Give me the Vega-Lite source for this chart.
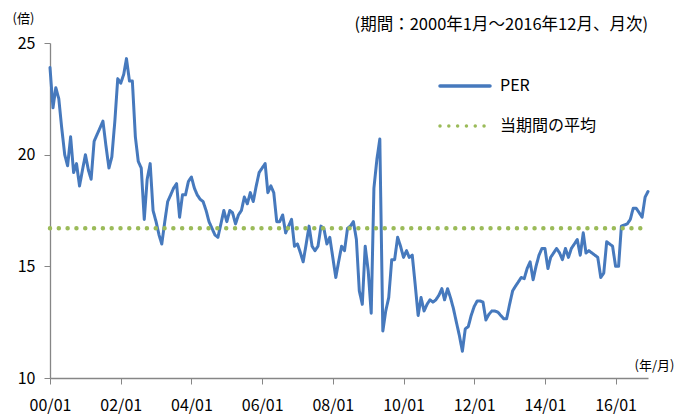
{
  "$schema": "https://vega.github.io/schema/vega-lite/v6.json",
  "width": 598,
  "height": 335,
  "autosize": {"type": "none"},
  "padding": {"left": 50, "top": 43, "right": 28, "bottom": 36},
  "background": "white",
  "config": {
    "font": "Noto Sans CJK JP",
    "view": {"stroke": null}
  },
  "title": {
    "text": "(期間：2000年1月～2016年12月、月次)",
    "anchor": "end",
    "fontSize": 16.5,
    "fontWeight": "normal",
    "color": "#000000",
    "offset": -21,
    "frame": "group"
  },
  "datasets": {
    "per": [
      {"date":"2000-01-01","per":23.9,"series":"PER"},
      {"date":"2000-02-01","per":22.1,"series":"PER"},
      {"date":"2000-03-01","per":23.0,"series":"PER"},
      {"date":"2000-04-01","per":22.5,"series":"PER"},
      {"date":"2000-05-01","per":21.2,"series":"PER"},
      {"date":"2000-06-01","per":20.0,"series":"PER"},
      {"date":"2000-07-01","per":19.5,"series":"PER"},
      {"date":"2000-08-01","per":20.8,"series":"PER"},
      {"date":"2000-09-01","per":19.2,"series":"PER"},
      {"date":"2000-10-01","per":19.6,"series":"PER"},
      {"date":"2000-11-01","per":18.6,"series":"PER"},
      {"date":"2000-12-01","per":19.3,"series":"PER"},
      {"date":"2001-01-01","per":20.0,"series":"PER"},
      {"date":"2001-02-01","per":19.3,"series":"PER"},
      {"date":"2001-03-01","per":18.9,"series":"PER"},
      {"date":"2001-04-01","per":20.6,"series":"PER"},
      {"date":"2001-05-01","per":20.9,"series":"PER"},
      {"date":"2001-06-01","per":21.2,"series":"PER"},
      {"date":"2001-07-01","per":21.5,"series":"PER"},
      {"date":"2001-08-01","per":20.4,"series":"PER"},
      {"date":"2001-09-01","per":19.4,"series":"PER"},
      {"date":"2001-10-01","per":19.9,"series":"PER"},
      {"date":"2001-11-01","per":21.5,"series":"PER"},
      {"date":"2001-12-01","per":23.4,"series":"PER"},
      {"date":"2002-01-01","per":23.2,"series":"PER"},
      {"date":"2002-02-01","per":23.6,"series":"PER"},
      {"date":"2002-03-01","per":24.3,"series":"PER"},
      {"date":"2002-04-01","per":23.3,"series":"PER"},
      {"date":"2002-05-01","per":23.3,"series":"PER"},
      {"date":"2002-06-01","per":20.8,"series":"PER"},
      {"date":"2002-07-01","per":19.7,"series":"PER"},
      {"date":"2002-08-01","per":19.4,"series":"PER"},
      {"date":"2002-09-01","per":17.1,"series":"PER"},
      {"date":"2002-10-01","per":18.9,"series":"PER"},
      {"date":"2002-11-01","per":19.6,"series":"PER"},
      {"date":"2002-12-01","per":17.5,"series":"PER"},
      {"date":"2003-01-01","per":17.0,"series":"PER"},
      {"date":"2003-02-01","per":16.4,"series":"PER"},
      {"date":"2003-03-01","per":16.0,"series":"PER"},
      {"date":"2003-04-01","per":17.0,"series":"PER"},
      {"date":"2003-05-01","per":17.9,"series":"PER"},
      {"date":"2003-06-01","per":18.2,"series":"PER"},
      {"date":"2003-07-01","per":18.5,"series":"PER"},
      {"date":"2003-08-01","per":18.7,"series":"PER"},
      {"date":"2003-09-01","per":17.2,"series":"PER"},
      {"date":"2003-10-01","per":18.2,"series":"PER"},
      {"date":"2003-11-01","per":18.2,"series":"PER"},
      {"date":"2003-12-01","per":18.8,"series":"PER"},
      {"date":"2004-01-01","per":19.0,"series":"PER"},
      {"date":"2004-02-01","per":18.5,"series":"PER"},
      {"date":"2004-03-01","per":18.2,"series":"PER"},
      {"date":"2004-04-01","per":18.0,"series":"PER"},
      {"date":"2004-05-01","per":17.9,"series":"PER"},
      {"date":"2004-06-01","per":17.5,"series":"PER"},
      {"date":"2004-07-01","per":17.0,"series":"PER"},
      {"date":"2004-08-01","per":16.7,"series":"PER"},
      {"date":"2004-09-01","per":16.4,"series":"PER"},
      {"date":"2004-10-01","per":16.3,"series":"PER"},
      {"date":"2004-11-01","per":16.9,"series":"PER"},
      {"date":"2004-12-01","per":17.5,"series":"PER"},
      {"date":"2005-01-01","per":17.0,"series":"PER"},
      {"date":"2005-02-01","per":17.5,"series":"PER"},
      {"date":"2005-03-01","per":17.4,"series":"PER"},
      {"date":"2005-04-01","per":16.9,"series":"PER"},
      {"date":"2005-05-01","per":17.3,"series":"PER"},
      {"date":"2005-06-01","per":17.5,"series":"PER"},
      {"date":"2005-07-01","per":18.1,"series":"PER"},
      {"date":"2005-08-01","per":17.8,"series":"PER"},
      {"date":"2005-09-01","per":18.3,"series":"PER"},
      {"date":"2005-10-01","per":17.9,"series":"PER"},
      {"date":"2005-11-01","per":18.6,"series":"PER"},
      {"date":"2005-12-01","per":19.2,"series":"PER"},
      {"date":"2006-01-01","per":19.4,"series":"PER"},
      {"date":"2006-02-01","per":19.6,"series":"PER"},
      {"date":"2006-03-01","per":18.3,"series":"PER"},
      {"date":"2006-04-01","per":18.6,"series":"PER"},
      {"date":"2006-05-01","per":18.3,"series":"PER"},
      {"date":"2006-06-01","per":17.0,"series":"PER"},
      {"date":"2006-07-01","per":17.0,"series":"PER"},
      {"date":"2006-08-01","per":17.3,"series":"PER"},
      {"date":"2006-09-01","per":16.5,"series":"PER"},
      {"date":"2006-10-01","per":16.8,"series":"PER"},
      {"date":"2006-11-01","per":17.1,"series":"PER"},
      {"date":"2006-12-01","per":15.9,"series":"PER"},
      {"date":"2007-01-01","per":16.0,"series":"PER"},
      {"date":"2007-02-01","per":15.6,"series":"PER"},
      {"date":"2007-03-01","per":15.2,"series":"PER"},
      {"date":"2007-04-01","per":16.0,"series":"PER"},
      {"date":"2007-05-01","per":16.8,"series":"PER"},
      {"date":"2007-06-01","per":15.9,"series":"PER"},
      {"date":"2007-07-01","per":15.7,"series":"PER"},
      {"date":"2007-08-01","per":15.9,"series":"PER"},
      {"date":"2007-09-01","per":16.8,"series":"PER"},
      {"date":"2007-10-01","per":16.7,"series":"PER"},
      {"date":"2007-11-01","per":16.0,"series":"PER"},
      {"date":"2007-12-01","per":16.3,"series":"PER"},
      {"date":"2008-01-01","per":15.4,"series":"PER"},
      {"date":"2008-02-01","per":14.5,"series":"PER"},
      {"date":"2008-03-01","per":15.2,"series":"PER"},
      {"date":"2008-04-01","per":15.9,"series":"PER"},
      {"date":"2008-05-01","per":15.7,"series":"PER"},
      {"date":"2008-06-01","per":16.7,"series":"PER"},
      {"date":"2008-07-01","per":16.8,"series":"PER"},
      {"date":"2008-08-01","per":17.0,"series":"PER"},
      {"date":"2008-09-01","per":16.2,"series":"PER"},
      {"date":"2008-10-01","per":13.9,"series":"PER"},
      {"date":"2008-11-01","per":13.3,"series":"PER"},
      {"date":"2008-12-01","per":15.9,"series":"PER"},
      {"date":"2009-01-01","per":14.8,"series":"PER"},
      {"date":"2009-02-01","per":12.9,"series":"PER"},
      {"date":"2009-03-01","per":18.5,"series":"PER"},
      {"date":"2009-04-01","per":19.8,"series":"PER"},
      {"date":"2009-05-01","per":20.7,"series":"PER"},
      {"date":"2009-06-01","per":12.1,"series":"PER"},
      {"date":"2009-07-01","per":13.0,"series":"PER"},
      {"date":"2009-08-01","per":13.6,"series":"PER"},
      {"date":"2009-09-01","per":15.3,"series":"PER"},
      {"date":"2009-10-01","per":15.3,"series":"PER"},
      {"date":"2009-11-01","per":16.3,"series":"PER"},
      {"date":"2009-12-01","per":15.9,"series":"PER"},
      {"date":"2010-01-01","per":15.4,"series":"PER"},
      {"date":"2010-02-01","per":15.7,"series":"PER"},
      {"date":"2010-03-01","per":15.4,"series":"PER"},
      {"date":"2010-04-01","per":15.5,"series":"PER"},
      {"date":"2010-05-01","per":14.2,"series":"PER"},
      {"date":"2010-06-01","per":12.8,"series":"PER"},
      {"date":"2010-07-01","per":13.6,"series":"PER"},
      {"date":"2010-08-01","per":13.0,"series":"PER"},
      {"date":"2010-09-01","per":13.3,"series":"PER"},
      {"date":"2010-10-01","per":13.5,"series":"PER"},
      {"date":"2010-11-01","per":13.4,"series":"PER"},
      {"date":"2010-12-01","per":13.5,"series":"PER"},
      {"date":"2011-01-01","per":13.7,"series":"PER"},
      {"date":"2011-02-01","per":14.0,"series":"PER"},
      {"date":"2011-03-01","per":13.5,"series":"PER"},
      {"date":"2011-04-01","per":14.0,"series":"PER"},
      {"date":"2011-05-01","per":13.6,"series":"PER"},
      {"date":"2011-06-01","per":13.1,"series":"PER"},
      {"date":"2011-07-01","per":12.5,"series":"PER"},
      {"date":"2011-08-01","per":11.9,"series":"PER"},
      {"date":"2011-09-01","per":11.2,"series":"PER"},
      {"date":"2011-10-01","per":12.2,"series":"PER"},
      {"date":"2011-11-01","per":12.3,"series":"PER"},
      {"date":"2011-12-01","per":12.8,"series":"PER"},
      {"date":"2012-01-01","per":13.2,"series":"PER"},
      {"date":"2012-02-01","per":13.45,"series":"PER"},
      {"date":"2012-03-01","per":13.45,"series":"PER"},
      {"date":"2012-04-01","per":13.4,"series":"PER"},
      {"date":"2012-05-01","per":12.6,"series":"PER"},
      {"date":"2012-06-01","per":12.85,"series":"PER"},
      {"date":"2012-07-01","per":13.0,"series":"PER"},
      {"date":"2012-08-01","per":13.0,"series":"PER"},
      {"date":"2012-09-01","per":12.95,"series":"PER"},
      {"date":"2012-10-01","per":12.8,"series":"PER"},
      {"date":"2012-11-01","per":12.65,"series":"PER"},
      {"date":"2012-12-01","per":12.65,"series":"PER"},
      {"date":"2013-01-01","per":13.3,"series":"PER"},
      {"date":"2013-02-01","per":13.9,"series":"PER"},
      {"date":"2013-03-01","per":14.1,"series":"PER"},
      {"date":"2013-04-01","per":14.3,"series":"PER"},
      {"date":"2013-05-01","per":14.5,"series":"PER"},
      {"date":"2013-06-01","per":14.45,"series":"PER"},
      {"date":"2013-07-01","per":14.9,"series":"PER"},
      {"date":"2013-08-01","per":15.2,"series":"PER"},
      {"date":"2013-09-01","per":14.4,"series":"PER"},
      {"date":"2013-10-01","per":15.0,"series":"PER"},
      {"date":"2013-11-01","per":15.5,"series":"PER"},
      {"date":"2013-12-01","per":15.8,"series":"PER"},
      {"date":"2014-01-01","per":15.8,"series":"PER"},
      {"date":"2014-02-01","per":14.9,"series":"PER"},
      {"date":"2014-03-01","per":15.4,"series":"PER"},
      {"date":"2014-04-01","per":15.6,"series":"PER"},
      {"date":"2014-05-01","per":15.8,"series":"PER"},
      {"date":"2014-06-01","per":15.6,"series":"PER"},
      {"date":"2014-07-01","per":15.3,"series":"PER"},
      {"date":"2014-08-01","per":15.8,"series":"PER"},
      {"date":"2014-09-01","per":15.4,"series":"PER"},
      {"date":"2014-10-01","per":15.8,"series":"PER"},
      {"date":"2014-11-01","per":16.0,"series":"PER"},
      {"date":"2014-12-01","per":16.2,"series":"PER"},
      {"date":"2015-01-01","per":15.5,"series":"PER"},
      {"date":"2015-02-01","per":16.5,"series":"PER"},
      {"date":"2015-03-01","per":15.6,"series":"PER"},
      {"date":"2015-04-01","per":15.7,"series":"PER"},
      {"date":"2015-05-01","per":15.6,"series":"PER"},
      {"date":"2015-06-01","per":15.5,"series":"PER"},
      {"date":"2015-07-01","per":15.4,"series":"PER"},
      {"date":"2015-08-01","per":14.5,"series":"PER"},
      {"date":"2015-09-01","per":14.7,"series":"PER"},
      {"date":"2015-10-01","per":16.1,"series":"PER"},
      {"date":"2015-11-01","per":16.0,"series":"PER"},
      {"date":"2015-12-01","per":15.9,"series":"PER"},
      {"date":"2016-01-01","per":15.0,"series":"PER"},
      {"date":"2016-02-01","per":15.0,"series":"PER"},
      {"date":"2016-03-01","per":16.8,"series":"PER"},
      {"date":"2016-04-01","per":16.85,"series":"PER"},
      {"date":"2016-05-01","per":16.9,"series":"PER"},
      {"date":"2016-06-01","per":17.1,"series":"PER"},
      {"date":"2016-07-01","per":17.6,"series":"PER"},
      {"date":"2016-08-01","per":17.6,"series":"PER"},
      {"date":"2016-09-01","per":17.4,"series":"PER"},
      {"date":"2016-10-01","per":17.2,"series":"PER"},
      {"date":"2016-11-01","per":18.1,"series":"PER"},
      {"date":"2016-12-01","per":18.35,"series":"PER"}
    ],
    "avg": [
      {"start":"2000-01-01","end":"2016-12-01","avg":16.7,"series":"当期間の平均"}
    ]
  },
  "layer": [
    {
      "data": {"name": "per"},
      "mark": {"type": "line", "strokeWidth": 3, "strokeJoin": "round", "strokeCap": "round"},
      "encoding": {
        "x": {
          "field": "date",
          "type": "temporal",
          "timeUnit": "utcyearmonth",
          "scale": {
            "domain": [{"year": 2000, "month": 1, "utc": true}, {"year": 2016, "month": 12, "utc": true}],
            "nice": false
          },
          "axis": {
            "values": [
              {"year": 2000, "month": 1, "utc": true},
              {"year": 2002, "month": 1, "utc": true},
              {"year": 2004, "month": 1, "utc": true},
              {"year": 2006, "month": 1, "utc": true},
              {"year": 2008, "month": 1, "utc": true},
              {"year": 2010, "month": 1, "utc": true},
              {"year": 2012, "month": 1, "utc": true},
              {"year": 2014, "month": 1, "utc": true},
              {"year": 2016, "month": 1, "utc": true}
            ],
            "format": "%y/%m",
            "grid": false,
            "labelFontSize": 16,
            "labelColor": "#000000",
            "labelPadding": 13,
            "labelFlush": false,
            "tickSize": 6,
            "tickColor": "#868686",
            "domainColor": "#868686",
            "domainWidth": 1.3,
            "title": "(年/月)",
            "titleFontSize": 13,
            "titleFontWeight": "normal",
            "titleColor": "#000000",
            "titleX": 604,
            "titleY": -13,
            "titleAlign": "center",
            "titleBaseline": "middle"
          }
        },
        "y": {
          "field": "per",
          "type": "quantitative",
          "scale": {"domain": [10, 25], "nice": false, "zero": false},
          "axis": {
            "values": [10, 15, 20, 25],
            "grid": false,
            "labelFontSize": 16,
            "labelColor": "#000000",
            "labelPadding": 9,
            "tickSize": 6,
            "tickColor": "#868686",
            "domainColor": "#868686",
            "domainWidth": 1.3,
            "title": "(倍)",
            "titleAngle": 0,
            "titleFontSize": 13,
            "titleFontWeight": "normal",
            "titleColor": "#000000",
            "titleX": -38,
            "titleY": -25,
            "titleAlign": "left",
            "titleBaseline": "middle"
          }
        },
        "color": {
          "field": "series",
          "type": "nominal",
          "scale": {"domain": ["PER", "当期間の平均"], "range": ["#4679bd", "#9bbb59"]},
          "legend": {
            "title": null,
            "orient": "none",
            "legendX": 388,
            "legendY": 16,
            "symbolType": "stroke",
            "symbolSize": 2500,
            "symbolStrokeWidth": 3.5,
            "labelFontSize": 16,
            "labelColor": "#000000",
            "labelOffset": 8,
            "rowPadding": 5,
            "encode": {"symbols": {"update": {"strokeCap": {"value": "round"}}}}
          }
        },
        "strokeDash": {
          "field": "series",
          "type": "nominal",
          "scale": {"domain": ["PER", "当期間の平均"], "range": [[1, 0], [0.01, 8.8]]},
          "legend": {
            "title": null,
            "orient": "none",
            "legendX": 388,
            "legendY": 16,
            "symbolType": "stroke",
            "symbolSize": 2500,
            "symbolStrokeWidth": 3.5,
            "labelFontSize": 16,
            "labelColor": "#000000",
            "labelOffset": 8,
            "rowPadding": 5,
            "encode": {"symbols": {"update": {"strokeCap": {"value": "round"}}}}
          }
        }
      }
    },
    {
      "data": {"name": "avg"},
      "mark": {"type": "rule", "strokeWidth": 4.5, "strokeCap": "round"},
      "encoding": {
        "x": {"field": "start", "type": "temporal", "timeUnit": "utcyearmonth"},
        "x2": {"field": "end", "timeUnit": "utcyearmonth"},
        "y": {"field": "avg", "type": "quantitative"},
        "color": {"field": "series", "type": "nominal"},
        "strokeDash": {"field": "series", "type": "nominal"}
      }
    }
  ]
}
